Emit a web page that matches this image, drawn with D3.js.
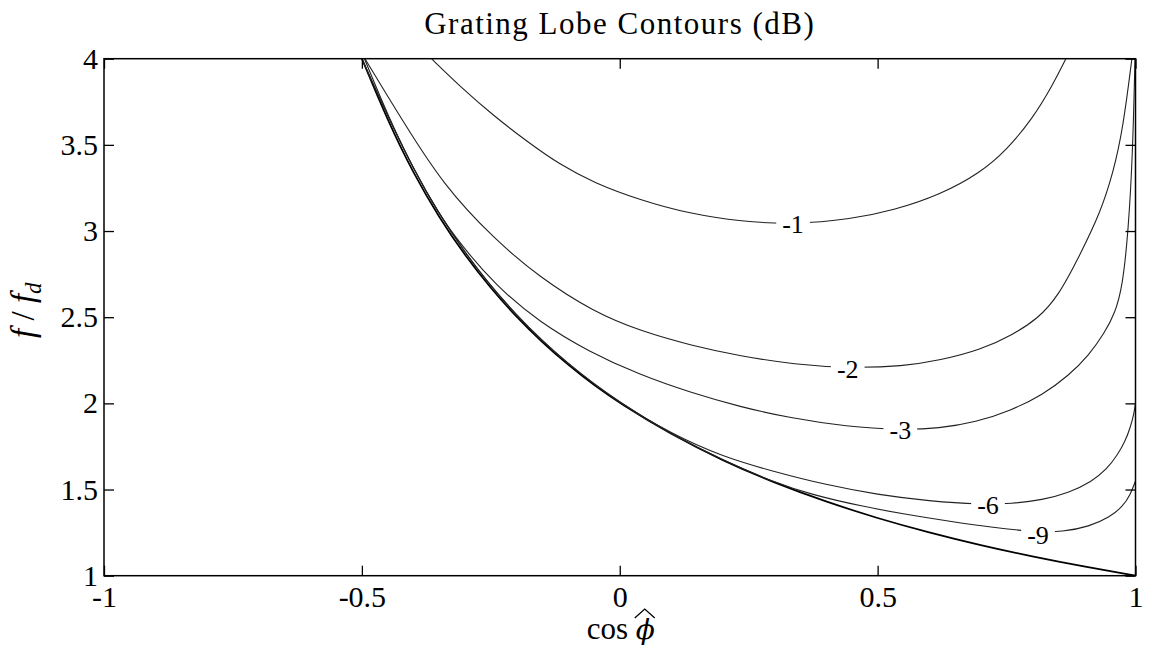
<!DOCTYPE html>
<html>
<head>
<meta charset="utf-8">
<script src="https://cdn.jsdelivr.net/npm/d3@7"></script>
<style>
  body { margin: 0; background: #fff; }
  text { font-family: "Liberation Serif", serif; fill: #000; }
</style>
</head>
<body>
<svg id="chart" width="1149" height="649"></svg>
<script>
// tick values
const xTicks = [-1, -0.5, 0, 0.5, 1];
const yTicks = [1, 1.5, 2, 2.5, 3, 3.5, 4];

// contour lines: [cos phi, f/fd]
const boundary = [[-0.5,4],[-0.45,3.64],[-0.4,3.333],[-0.35,3.077],[-0.3,2.857],[-0.25,2.667],[-0.2,2.5],[-0.15,2.353],[-0.1,2.222],[-0.05,2.105],[0,2],[0.1,1.818],[0.2,1.667],[0.3,1.538],[0.4,1.429],[0.5,1.333],[0.6,1.25],[0.7,1.176],[0.8,1.111],[0.9,1.053],[1,1]];
const level1 = [[-0.365,4],[-0.31,3.84],[-0.245,3.67],[-0.18,3.52],[-0.116,3.385],[-0.05,3.28],[0.039,3.18],[0.136,3.1],[0.236,3.055],[0.336,3.038],[0.45,3.07],[0.53,3.12],[0.621,3.21],[0.7,3.34],[0.75,3.47],[0.8,3.65],[0.84,3.85],[0.865,4]];
const level2 = [[-0.494,4],[-0.42,3.634],[-0.342,3.267],[-0.245,2.958],[-0.155,2.73],[-0.05,2.53],[0.04,2.42],[0.14,2.335],[0.233,2.275],[0.34,2.225],[0.443,2.205],[0.55,2.215],[0.621,2.25],[0.7,2.31],[0.763,2.4],[0.81,2.49],[0.85,2.62],[0.892,2.86],[0.931,3.1],[0.957,3.34],[0.976,3.6],[0.993,4]];
const level3 = [[-0.495,4],[-0.44,3.6],[-0.372,3.2],[-0.322,2.97],[-0.24,2.68],[-0.155,2.47],[-0.06,2.3],[0.039,2.165],[0.14,2.06],[0.233,1.98],[0.33,1.915],[0.44,1.865],[0.543,1.845],[0.62,1.855],[0.69,1.89],[0.76,1.96],[0.82,2.05],[0.87,2.16],[0.91,2.28],[0.94,2.41],[0.96,2.52],[0.975,2.68],[0.986,3.0],[0.9945,3.44],[0.999,4]];
const level6 = [[-0.5,4],[-0.4,3.335],[-0.3,2.86],[-0.2,2.502],[-0.1,2.224],[0,2.003],[0.1,1.823],[0.2,1.69],[0.3,1.603],[0.4,1.527],[0.5,1.47],[0.6,1.433],[0.7,1.413],[0.76,1.418],[0.82,1.44],[0.87,1.48],[0.915,1.545],[0.945,1.62],[0.965,1.7],[0.98,1.78],[0.99,1.86],[0.997,1.94],[1,2]];
const level9 = [[-0.5,4],[-0.4,3.334],[-0.3,2.858],[-0.2,2.501],[-0.1,2.223],[0,2.001],[0.1,1.82],[0.2,1.668],[0.3,1.542],[0.37,1.472],[0.47,1.402],[0.56,1.353],[0.64,1.315],[0.72,1.281],[0.8,1.255],[0.86,1.254],[0.91,1.285],[0.95,1.34],[0.975,1.4],[0.99,1.47],[1,1.55]];

const levelNames = ["-1", "-2", "-3", "-6", "-9"];
const labelC = [0.336, 0.442, 0.544, 0.714, 0.811];
const labelF = [3.039, 2.2, 1.842, 1.41, 1.236];

const svg = d3.select("#chart");
const x = d3.scaleLinear().domain([-1, 1]).range([104, 1135.5]);
const y = d3.scaleLinear().domain([1, 4]).range([575.7, 58.7]);

svg.append("clipPath").attr("id", "plot")
  .append("rect")
  .attr("x", x(-1)).attr("y", y(4))
  .attr("width", x(1) - x(-1)).attr("height", y(1) - y(4));

const line = d3.line()
  .x(d => x(d[0]))
  .y(d => y(d[1]))
  .curve(d3.curveBasis);

const lines = svg.append("g").attr("clip-path", "url(#plot)").attr("fill", "none");

lines.append("path").attr("d", line(boundary))
  .attr("stroke", "#000").attr("stroke-width", 1.7);

[level1, level2, level3, level6, level9].forEach(c => {
  lines.append("path").attr("d", line(c))
    .attr("stroke", "#222").attr("stroke-width", 1.1);
});

// contour labels with white gap
levelNames.forEach((t, i) => {
  const g = svg.append("g").attr("transform", `translate(${x(labelC[i])},${y(labelF[i])})`);
  const r = g.append("rect").attr("fill", "#fff");
  const txt = g.append("text")
    .attr("text-anchor", "middle")
    .attr("dy", "0.34em")
    .style("font-size", "26px")
    .text(t);
  const w = txt.node().getComputedTextLength();
  r.attr("x", -w / 2 - 6).attr("y", -9).attr("width", w + 12).attr("height", 18);
});

// axes with inward ticks on all sides
function style(g) {
  g.select(".domain").remove();
  g.selectAll(".tick line").attr("stroke", "#000").attr("stroke-width", 1.3);
  g.selectAll(".tick text").style("font-size", "30px").style("font-family", "Liberation Serif");
}
const fmt = d => String(d);

svg.append("g").attr("transform", `translate(0,${y(1)})`)
  .call(d3.axisBottom(x).tickValues(xTicks).tickSize(-10).tickPadding(10).tickFormat(fmt))
  .call(style);
svg.append("g").attr("transform", `translate(0,${y(4)})`)
  .call(d3.axisTop(x).tickValues(xTicks).tickSize(-10).tickFormat(""))
  .call(style);
svg.append("g").attr("transform", `translate(${x(-1)},0)`)
  .call(d3.axisLeft(y).tickValues(yTicks).tickSize(-10).tickPadding(6).tickFormat(fmt))
  .call(style);
svg.append("g").attr("transform", `translate(${x(1)},0)`)
  .call(d3.axisRight(y).tickValues(yTicks).tickSize(-10).tickFormat(""))
  .call(style);

svg.append("rect")
  .attr("x", x(-1)).attr("y", y(4))
  .attr("width", x(1) - x(-1)).attr("height", y(1) - y(4))
  .attr("fill", "none").attr("stroke", "#000").attr("stroke-width", 1.5);

// title
svg.append("text")
  .attr("x", x(0)).attr("y", 34)
  .attr("text-anchor", "middle")
  .style("font-size", "31px")
  .style("letter-spacing", "1.5px")
  .text("Grating Lobe Contours (dB)");

// x label: cos phi-hat
const cx = x(0);
svg.append("text")
  .attr("x", cx - 33).attr("y", 639)
  .style("font-size", "31px")
  .text("cos");
svg.append("text")
  .attr("x", cx + 16).attr("y", 639)
  .style("font-size", "28px")
  .style("font-style", "italic")
  .style("font-family", "DejaVu Serif")
  .text("\u03D5");
svg.append("path")
  .attr("d", `M${cx + 15},618 L${cx + 25},609 L${cx + 35},618`)
  .attr("fill", "none").attr("stroke", "#000").attr("stroke-width", 1.3);

// y label: f / f_d
const yl = svg.append("text")
  .attr("transform", `translate(34,${(y(1) + y(4)) / 2 - 7}) rotate(-90)`)
  .attr("text-anchor", "middle")
  .style("font-size", "33px");
yl.append("tspan").style("font-style", "italic").text("f");
yl.append("tspan").text(" / ");
yl.append("tspan").style("font-style", "italic").text("f");
yl.append("tspan").style("font-style", "italic").style("font-size", "23px").attr("dy", 7).text("d");
</script>
</body>
</html>
